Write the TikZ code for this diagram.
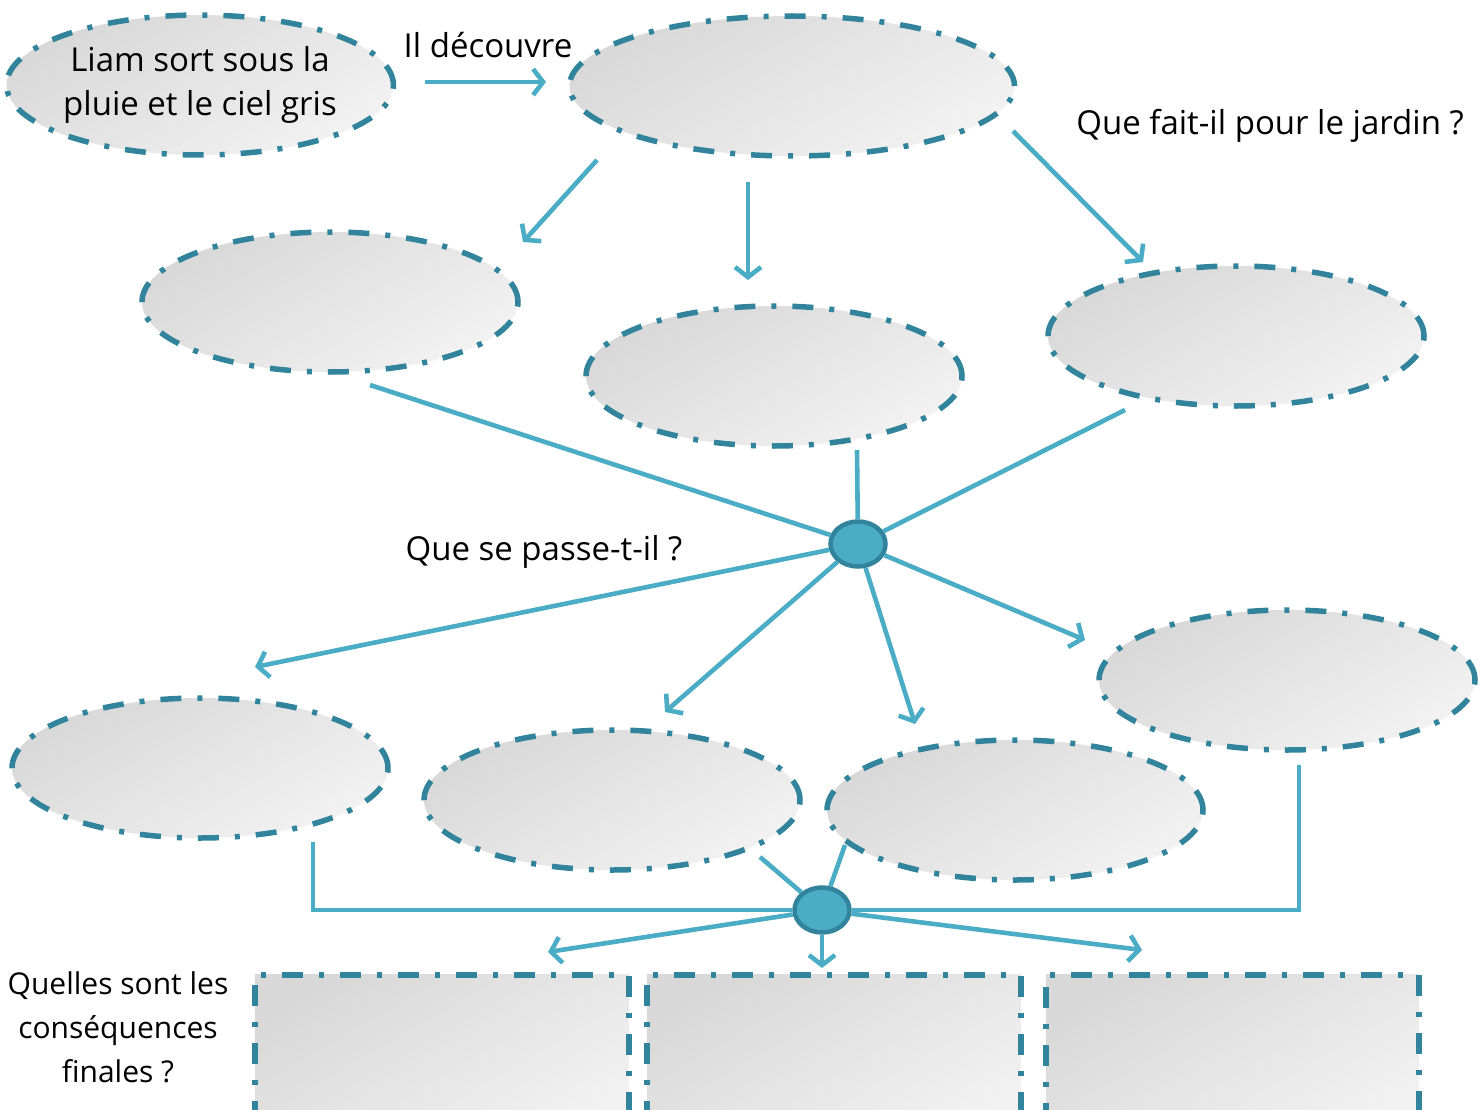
\documentclass[tikz,border=0pt]{standalone}
\usepackage{fontspec}
\setmainfont{Open Sans}
\usetikzlibrary{shapes.geometric,arrows.meta}
\definecolor{lineblue}{HTML}{4BACC6}
\definecolor{bordteal}{HTML}{31849B}
\definecolor{fillA}{HTML}{D8D8D8}
\definecolor{fillB}{HTML}{F2F2F2}
\tikzset{
  dashdot/.style={draw=bordteal, line width=5.5pt, dash pattern=on 21pt off 16pt on 5pt off 16pt},
  grad/.style={top color=fillA, bottom color=fillB, shading angle=30},
  bubble/.style={ellipse, dashdot, grad, minimum width=376pt, minimum height=140pt,
    inner sep=0pt, align=center, font=\fontsize{33}{44}\selectfont},
  boxnode/.style={rectangle, dashdot, grad, minimum width=374pt, minimum height=170pt,
    inner sep=0pt, anchor=north west},
  hub/.style={ellipse, fill=lineblue, draw=bordteal, line width=4.5pt,
    minimum width=55pt, minimum height=45pt, inner sep=0pt},
  arr/.style={draw=lineblue, line width=4.6pt, -{Straight Barb[length=10pt,width=26pt]}},
  link/.style={draw=lineblue, line width=4.6pt},
  lbl/.style={font=\fontsize{33}{44}\selectfont, inner sep=0pt, align=center},
}
\begin{document}
\begin{tikzpicture}[x=1pt,y=-1pt]
\useasboundingbox (0,0) rectangle (1480,1110);
% bubbles
\node[bubble] (e1) at (200,85) {Liam sort sous la\\pluie et le ciel gris};
\node[bubble, minimum width=445pt] (e2) at (792,86) {};
\node[bubble] (e3) at (330,302) {};
\node[bubble] (e4) at (774,376) {};
\node[bubble] (e5) at (1236,336) {};
\node[bubble] (e6) at (1287,680) {};
\node[bubble] (e7) at (200,768) {};
\node[bubble] (e8) at (612,800) {};
\node[bubble] (e9) at (1015,810) {};
% boxes
\node[boxnode] (r1) at (252,972) {};
\node[boxnode] (r2) at (644,972) {};
\node[boxnode, minimum width=373pt] (r3) at (1043,972) {};
% hubs
\node[hub] (h1) at (858,544) {};
\node[hub] (h2) at (822,910) {};
% labels
\node[lbl] (t1) at (488,45) {Il découvre};
\node[lbl] (t2) at (1270,126) {Que fait-il pour le jardin ?};
\node[lbl] (t3) at (544,552) {Que se passe-t-il ?};
\node[lbl, font=\fontsize{30}{44}\selectfont] (t4) at (118,1027) {Quelles sont les\\conséquences\\finales ?};
% free ends
\coordinate (a1s) at (425,82);  \coordinate (a1e) at (546,82);
\coordinate (a2s) at (597,160); \coordinate (a2e) at (523,242);
\coordinate (a3s) at (748,182); \coordinate (a3e) at (748,280);
\coordinate (a4s) at (1013,131); \coordinate (a4e) at (1143,262);
\coordinate (i1) at (370,385);
\coordinate (i2) at (857,450);
\coordinate (i3) at (1125,410);
\coordinate (o1) at (255,667);
\coordinate (o2) at (665,712);
\coordinate (o3) at (915,724);
\coordinate (o4) at (1085,640);
\coordinate (j1) at (313,842);
\coordinate (j2) at (1299,765);
\coordinate (j3) at (760,857);
\coordinate (j4) at (845,845);
\coordinate (p1) at (548,952);
\coordinate (p2) at (822,968);
\coordinate (p3) at (1142,950);
% top arrows
\draw[arr] (a1s) -- (a1e);
\draw[arr] (a2s) -- (a2e);
\draw[arr] (a3s) -- (a3e);
\draw[arr] (a4s) -- (a4e);
% into hub 1
\draw[link] (i1) -- (h1);
\draw[link] (i2) -- (h1);
\draw[link] (i3) -- (h1);
% out of hub 1
\draw[arr] (h1) -- (o1);
\draw[arr] (h1) -- (o2);
\draw[arr] (h1) -- (o3);
\draw[arr] (h1) -- (o4);
% into hub 2
\draw[link] (j1) |- (h2.west);
\draw[link] (j2) |- (h2.east);
\draw[link] (j3) -- (h2);
\draw[link] (j4) -- (h2);
% out of hub 2
\draw[arr] (h2) -- (p1);
\draw[arr] (h2) -- (p2);
\draw[arr] (h2) -- (p3);
\end{tikzpicture}
\end{document}
